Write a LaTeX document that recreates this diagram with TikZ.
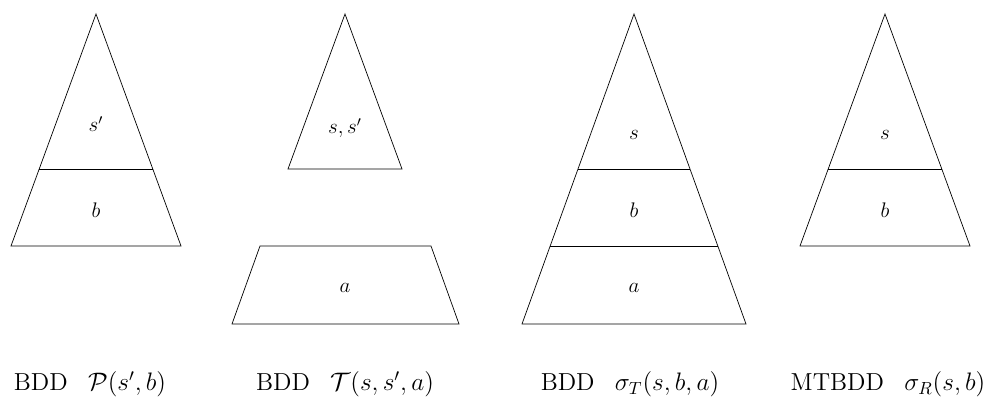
\documentclass[tikz,border=0pt]{standalone}
\usepackage{amsmath}
\begin{document}
\begin{tikzpicture}[x=0.02cm,y=-0.02cm]
  \tikzset{lbl/.style={font=\large},
    captxt/.style={anchor=base,font=\fontsize{14}{17}\selectfont}}
  \useasboundingbox (0,0) rectangle (985,398);
  % P(s',b)
  \draw (11,246) -- (96,14) -- (181,246) -- cycle;
  \draw (39.2,169) -- (152.8,169);
  \node[lbl] (ps) at (96,124) {$s'$};
  \node[lbl] (pb) at (96,210) {$b$};
  % T(s,s',a)
  \draw (288,169) -- (345,14) -- (402,169) -- cycle;
  \draw (260,246) -- (431,246) -- (459,324) -- (232,324) -- cycle;
  \node[lbl] (tss) at (345,128) {$s,s'$};
  \node[lbl] (ta) at (345,288) {$a$};
  % sigma_T(s,b,a)
  \draw (522,324) -- (634,14) -- (746,324) -- cycle;
  \draw (578,169) -- (690,169);
  \draw (550.2,246) -- (717.8,246);
  \node[lbl] (sts) at (634,135) {$s$};
  \node[lbl] (stb) at (634,210) {$b$};
  \node[lbl] (sta) at (634,288) {$a$};
  % sigma_R(s,b)
  \draw (800,246) -- (885,14) -- (970,246) -- cycle;
  \draw (828.2,169) -- (941.8,169);
  \node[lbl] (srs) at (885,135) {$s$};
  \node[lbl] (srb) at (885,210) {$b$};
  % captions
  \node[captxt] (c1) at (90,391) {BDD\enspace\ $\mathcal{P}(s',b)$};
  \node[captxt] (c2) at (345,391) {BDD\enspace\ $\mathcal{T}(s,s',a)$};
  \node[captxt] (c3) at (630,391) {BDD\enspace\ $\sigma_T(s,b,a)$};
  \node[captxt] (c4) at (888,391) {MTBDD\enspace\ $\sigma_R(s,b)$};
\end{tikzpicture}
\end{document}
